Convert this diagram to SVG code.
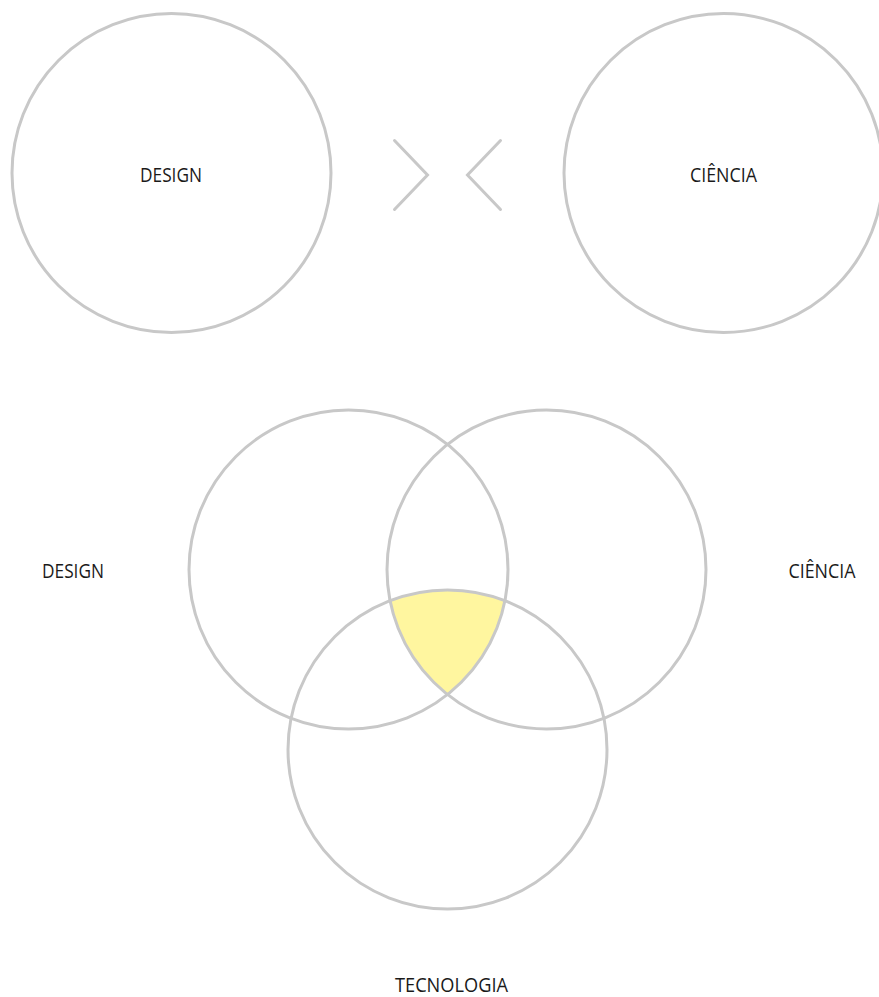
<svg xmlns="http://www.w3.org/2000/svg" width="879" height="997" viewBox="0 0 879 997">
<style>
.c{fill:none;stroke:#c8c8c8;stroke-width:3}
.ch{fill:none;stroke:#c8c8c8;stroke-width:3;stroke-linecap:round;stroke-linejoin:miter}
.t{font-family:"Open Sans","Noto Sans","DejaVu Sans",sans-serif;font-size:19.5px;fill:#1a1a1a}
</style>
<rect width="879" height="997" fill="#ffffff"/>
<g id="top-design"><circle class="c" cx="171.5" cy="173" r="159.5"/><text class="t" x="140" y="181.5" textLength="62" lengthAdjust="spacingAndGlyphs">DESIGN</text></g>
<g id="top-ciencia"><circle class="c" cx="723.5" cy="173" r="159.5"/><text class="t" x="690" y="181.5" textLength="67" lengthAdjust="spacingAndGlyphs">CIÊNCIA</text></g>
<g id="connectors">
<polyline class="ch" points="394.5,140.5 427.5,175 394.5,209.5"/>
<polyline class="ch" points="500.5,140.5 467.5,175 500.5,209.5"/>
</g>
<g id="intersection"><path d="M390.08,600.7 A159.5,159.5 0 0 1 504.92,600.7 A159.5,159.5 0 0 1 447.5,694.56 A159.5,159.5 0 0 1 390.08,600.7 Z" fill="#fff69f"/></g>
<g id="venn-design"><circle class="c" cx="348.5" cy="569.5" r="159.5"/><text class="t" x="42" y="577.7" textLength="62" lengthAdjust="spacingAndGlyphs">DESIGN</text></g>
<g id="venn-ciencia"><circle class="c" cx="546.5" cy="569.5" r="159.5"/><text class="t" x="788.5" y="577.5" textLength="67" lengthAdjust="spacingAndGlyphs">CIÊNCIA</text></g>
<g id="venn-tecnologia"><circle class="c" cx="447.5" cy="749.5" r="159.5"/><text class="t" x="395" y="991.7" textLength="113" lengthAdjust="spacingAndGlyphs">TECNOLOGIA</text></g>
</svg>
